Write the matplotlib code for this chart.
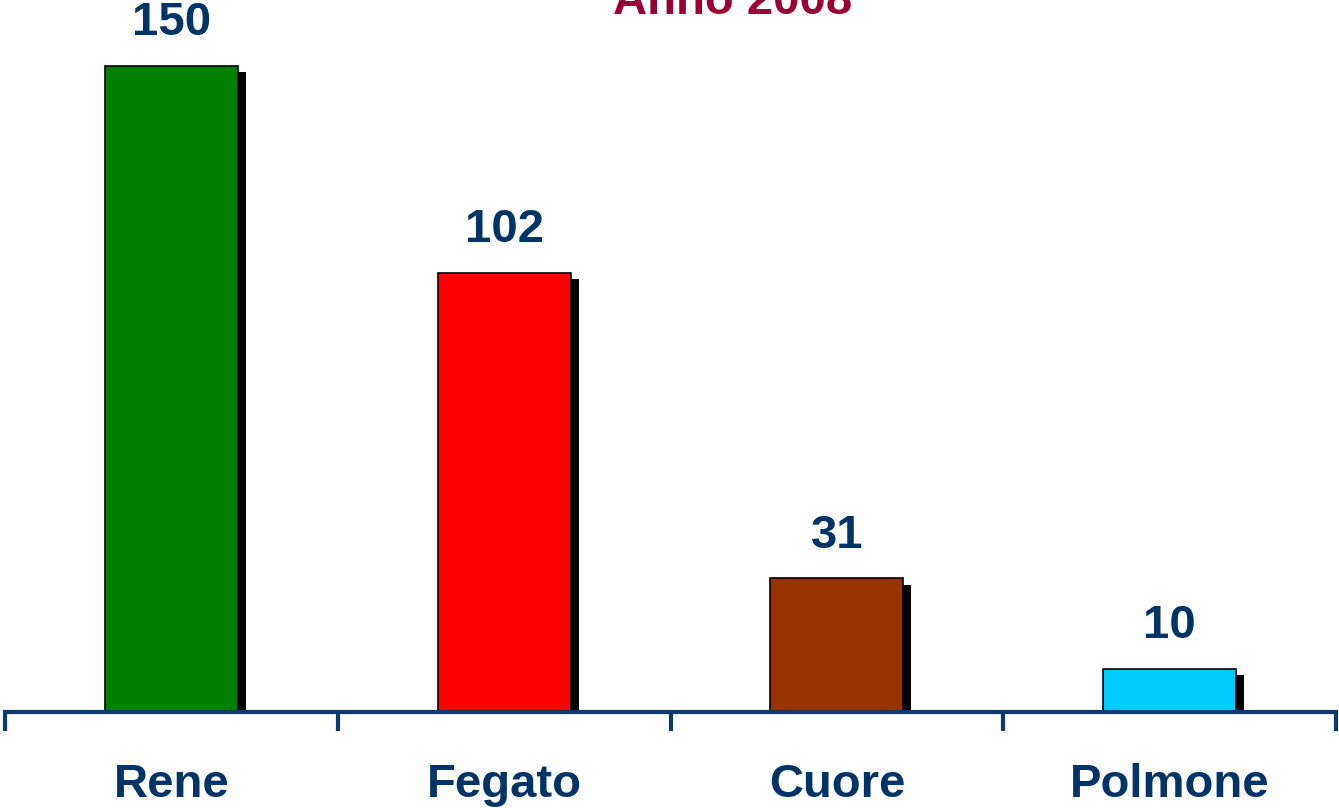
import matplotlib.pyplot as plt

organi = ['Rene', 'Fegato', 'Cuore', 'Polmone']
trapianti = [150, 102, 31, 10]
colori = ['#008000', '#FF0000', '#993300', '#00CCFF']

navy = '#003366'
axis_col = '#0B3A6E'
plt.rcParams['font.family'] = ['Liberation Sans', 'DejaVu Sans']

fig = plt.figure(figsize=(13.39, 8.08), dpi=100)
ax = fig.add_axes([5 / 1339, 96 / 808, 1331 / 1339, 712 / 808])

x = range(len(organi))
width = 0.4
# shadow a few pixels right and below each bar
ax.bar([i + 0.024 for i in x], [v - 1.4 for v in trapianti], width=width,
       color='black', zorder=1)
bars = ax.bar(x, trapianti, width=width, color=colori, edgecolor='black',
              linewidth=1.2, zorder=2)

for b, v in zip(bars, trapianti):
    ax.annotate(str(v), (b.get_x() + b.get_width() / 2, v),
                xytext=(0, 15), textcoords='offset points', ha='center',
                va='bottom', fontsize=34, fontweight='bold', color=navy)

ax.set_xlim(-0.5, 3.5)
ax.set_ylim(0, 165.3)
for s in ['top', 'left', 'right']:
    ax.spines[s].set_visible(False)
ax.spines['bottom'].set_color(axis_col)
ax.spines['bottom'].set_linewidth(3)
ax.set_yticks([])

ax.set_xticks([-0.5, 0.5, 1.5, 2.5, 3.5])
ax.set_xticklabels([])
ax.tick_params(axis='x', which='major', direction='out', length=14,
               width=3, color=axis_col)
ax.set_xticks(list(x), minor=True)
ax.set_xticklabels(organi, minor=True, fontsize=34, fontweight='bold',
                   color=navy)
ax.tick_params(axis='x', which='minor', length=0, pad=37)

fig.text(733 / 1339, 1 - 14 / 808, 'Anno 2008', ha='center', va='baseline',
         fontsize=34, fontweight='bold', color='#990033')

fig.savefig('out.png', dpi=100)
